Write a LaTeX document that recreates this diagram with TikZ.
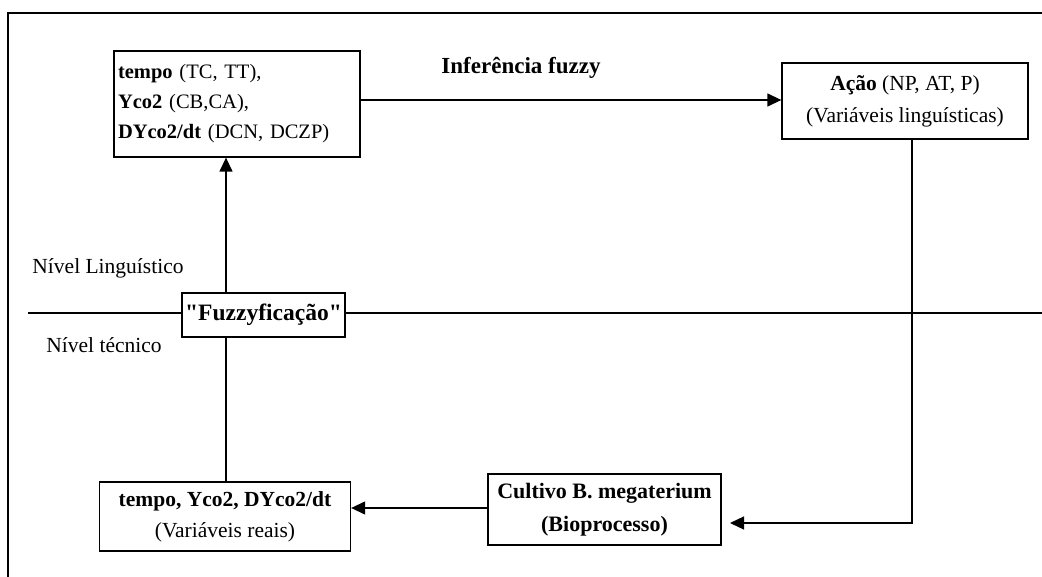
\documentclass[tikz,border=0pt]{standalone}
\usepackage{fontspec}
\setmainfont{Liberation Serif}[Ligatures=TeXOff]
\usetikzlibrary{arrows.meta}
\begin{document}
\begin{tikzpicture}[x=1pt,y=-1pt,
  box/.style={draw,line width=1.3pt,inner sep=0pt,font=\fontsize{21}{31}\selectfont},
  conn/.style={line width=1.3pt},
  arr/.style={line width=1.3pt,-{Triangle[length=14pt,width=13pt]}},
  lbl/.style={inner sep=0pt,font=\fontsize{21.5}{24}\selectfont}]
\useasboundingbox (0,0) rectangle (1042,577);
\fill[white] (0,0) rectangle (1042,577);
% frame
\coordinate (ftl) at (8,13);
\coordinate (ftr) at (1042,13);
\coordinate (fbl) at (8,577);
\draw[conn] (fbl) -- (ftl) -- (ftr);
% boxes
\node[box,minimum width=246pt,minimum height=106pt,align=left,text width=238pt,font=\fontsize{20.5}{30}\selectfont] (in) at (237,104)
  {\textbf{tempo} (TC, TT),\\\textbf{Yco2} (CB,CA),\\\textbf{DYco2/dt} (DCN, DCZP)};
\node[box,minimum width=246pt,minimum height=76pt,align=center,font=\fontsize{21.5}{32}\selectfont] (acao) at (905,101)
  {\textbf{Ação} (NP, AT, P)\\(Variáveis linguísticas)};
\node[box,minimum width=163pt,minimum height=44pt,font=\fontsize{23.5}{24}\selectfont\bfseries] (fuz) at (263.5,315) {"Fuzzyficação"};
\node[box,minimum width=251pt,minimum height=69pt,align=center,font=\fontsize{21.5}{31}\selectfont] (real) at (225,516.5)
  {\textbf{tempo, Yco2, DYco2/dt}\\(Variáveis reais)};
\node[box,minimum width=233pt,minimum height=71pt,align=center,font=\fontsize{22}{33}\selectfont\bfseries] (cult) at (604.5,509.5)
  {Cultivo B. megaterium\\(Bioprocesso)};
% labels
\node[lbl,font=\fontsize{23}{24}\selectfont\bfseries] (inf) at (521,68) {Inferência fuzzy};
\node[lbl] (nl) at (108,268) {Nível Linguístico};
\node[lbl] (nt) at (104,345) {Nível técnico};
% level line
\coordinate (hl) at (28,313);
\coordinate (hr) at (1042,313);
\draw[conn] (hl) -- (fuz.west |- hl);
\draw[conn] (fuz.east |- hr) -- (hr);
% connectors
\coordinate (a1) at (0,100);
\draw[arr] (in.east |- a1) -- (acao.west |- a1);
\coordinate (c1) at (912,523);
\coordinate (c2) at (730,523);
\draw[arr] (acao.south -| c1) -- (c1) -- (c2);
\coordinate (b1) at (0,508);
\draw[arr] (cult.west |- b1) -- (real.east |- b1);
\coordinate (v1) at (226,337);
\coordinate (v2) at (226,293);
\draw[conn] (real.north -| v1) -- (v1);
\draw[arr] (v2) -- (in.south -| v2);
\end{tikzpicture}
\end{document}
